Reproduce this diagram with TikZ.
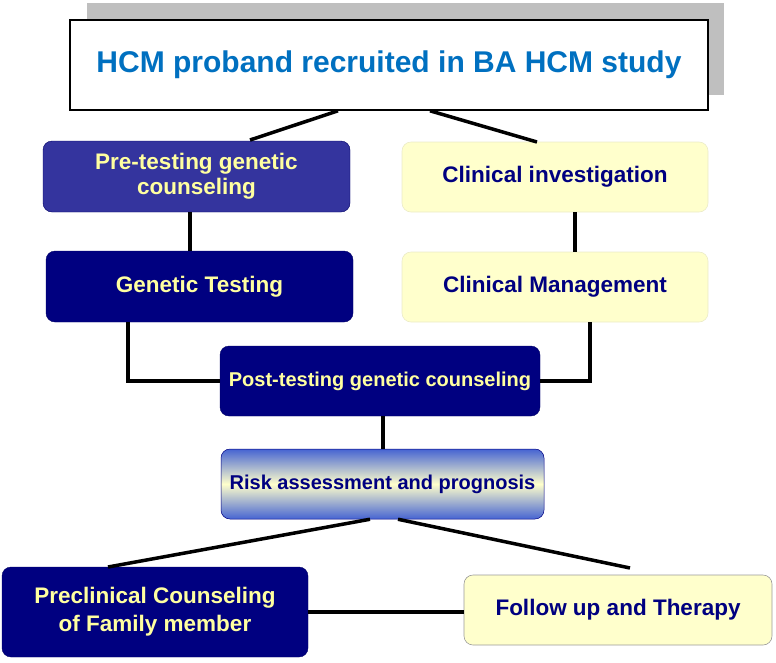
\documentclass[tikz,border=0pt]{standalone}
\usepackage{fontspec}
\setmainfont{Liberation Sans}
\begin{document}
\begin{tikzpicture}[x=1pt,y=-1pt,
  conn/.style={line width=3.5pt,black},
  bigtxt/.style={font=\bfseries\fontsize{22.5}{25}\selectfont},
  smalltxt/.style={font=\bfseries\fontsize{20}{24}\selectfont},
  navybox/.style={draw=black!60!blue,line width=0.4pt,fill=navyc,rounded corners=9pt,text=txtyellow,bigtxt,align=center,inner sep=0pt},
  yellowbox/.style={draw=yborder,line width=0.6pt,fill=lyellow,rounded corners=9pt,text=navyc,bigtxt,align=center,inner sep=0pt}]
\definecolor{navyc}{RGB}{0,0,128}
\definecolor{midblue}{RGB}{52,52,158}
\definecolor{txtyellow}{RGB}{255,255,160}
\definecolor{lyellow}{RGB}{255,255,204}
\definecolor{yborder}{RGB}{235,235,200}
\definecolor{titleblue}{RGB}{0,112,192}
\definecolor{riskblue}{RGB}{70,100,210}
\useasboundingbox (0,0) rectangle (776,662);
% shadow and title
\fill[black!25] (87,3) rectangle (724,95);
\node[draw=black,line width=1.6pt,fill=white,minimum width=638pt,minimum height=90pt,inner sep=0pt,text=titleblue,font=\bfseries\fontsize{30}{34}\selectfont] (title) at (389,65) {HCM proband recruited in BA HCM study};
% boxes
\node[navybox,fill=midblue,minimum width=307pt,minimum height=71pt] (pre) at (196.5,176.5) {Pre-testing genetic\\counseling};
\node[navybox,minimum width=307pt,minimum height=71pt] (gen) at (199.5,286.5) {Genetic Testing};
\node[yellowbox,minimum width=306pt,minimum height=70pt] (cinv) at (555,177) {Clinical investigation};
\node[yellowbox,minimum width=306pt,minimum height=70pt] (cman) at (555,287) {Clinical Management};
\node[navybox,smalltxt,minimum width=320pt,minimum height=70pt] (post) at (380,381) {Post-testing genetic counseling};
\node[draw=black!50!blue,line width=0.5pt,rounded corners=9pt,top color=riskblue,bottom color=riskblue,middle color=lyellow,minimum width=323pt,minimum height=70pt,inner sep=0pt,text=navyc,smalltxt] (risk) at (382.5,484) {Risk assessment and prognosis};
\node[navybox,font=\bfseries\fontsize{22.5}{28}\selectfont,minimum width=306pt,minimum height=90pt] (pcf) at (155,612) {Preclinical Counseling\\of Family member};
\node[yellowbox,draw=black!40,minimum width=308pt,minimum height=70pt] (fut) at (618,610) {Follow up and Therapy};
% connectors
\draw[conn] (250,140) -- (title.south -| 338,0);
\draw[conn] (title.south -| 430,0) -- (537,142);
\draw[conn] (pre.south -| 190,0) -- (gen.north -| 190,0);
\draw[conn] (cinv.south -| 575,0) -- (cman.north -| 575,0);
\draw[conn] (gen.south -| 128,0) |- (post.west);
\draw[conn] (cman.south -| 590,0) |- (post.east);
\draw[conn] (post.south -| 383,0) -- (risk.north -| 383,0);
\draw[conn] (risk.south -| 370,0) -- (108,567);
\draw[conn] (risk.south -| 398,0) -- (630,568);
\draw[conn] (pcf.east |- 0,612) -- (fut.west |- 0,612);
\end{tikzpicture}
\end{document}
